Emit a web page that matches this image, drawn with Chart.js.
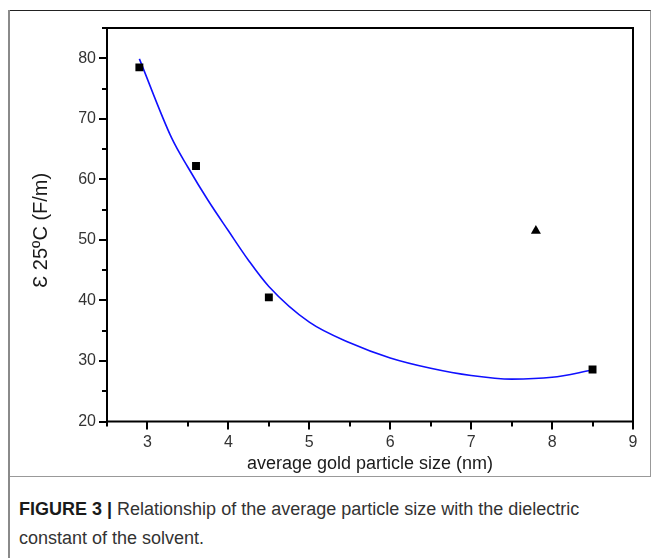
<!DOCTYPE html>
<html>
<head>
<meta charset="utf-8">
<script src="https://cdn.jsdelivr.net/npm/chart.js@4"></script>
<style>
  html, body { margin: 0; padding: 0; background: #fff; }
  body { width: 659px; height: 558px; position: relative; overflow: hidden; font-family: "Liberation Sans", Arial, sans-serif; }
  #frame { position: absolute; left: 9px; top: 10px; width: 641px; height: 465px; border-top: 1px solid #222; border-right: 1px solid #999; border-bottom: 1px solid #999; }
  #leftRule { position: absolute; left: 8px; top: 10px; width: 2px; height: 548px; background: #8a8a8a; }
  #chartBox { position: absolute; left: 0; top: 0; width: 659px; height: 475px; }
  #caption { position: absolute; left: 19px; top: 495px; width: 620px; font-family: "Liberation Sans", sans-serif; font-size: 18px; line-height: 29px; color: #333; }
  #caption b { color: #1a1a1a; }
</style>
</head>
<body>
<div id="frame"></div>
<div id="leftRule"></div>
<div id="chartBox"><canvas id="chart" width="659" height="475"></canvas></div>
<div id="caption"><b>FIGURE 3 |</b> Relationship of the average particle size with the dielectric constant of the solvent.</div>
<script>
// measured samples (squares) and the outlier (triangle)
const sizeNm = [2.9, 3.6, 4.5, 8.5];
const epsilon = [78.5, 62.2, 40.5, 28.6];
const outlierSize = [7.8];
const outlierEps = [51.5];

// fitted curve, read along its length
const fitX = [2.9, 3.3, 3.5, 3.75, 4.0, 4.25, 4.5, 5.0, 5.5, 6.0, 6.5, 7.0, 7.5, 8.0, 8.5];
const fitY = [79.9, 66.8, 62.0, 56.5, 51.5, 46.6, 42.3, 36.4, 33.0, 30.5, 28.8, 27.6, 27.0, 27.3, 28.5];

const xMajor = [3, 4, 5, 6, 7, 8, 9];
const yMajor = [20, 30, 40, 50, 60, 70, 80];

const toPoints = (xs, ys) => xs.map((x, i) => ({ x: x, y: ys[i] }));

// Origin-style ticks: long major, short minor, pointing outward
const tickMarks = {
  id: 'tickMarks',
  afterDraw(chart) {
    const ctx = chart.ctx;
    const xs = chart.scales.x, ys = chart.scales.y;
    const a = chart.chartArea;
    ctx.save();
    ctx.strokeStyle = '#000';
    ctx.lineWidth = 2;
    for (let v = 2.5; v <= 9.001; v += 0.5) {
      const px = Math.round(xs.getPixelForValue(v));
      const len = Number.isInteger(v) ? 8 : 5;
      ctx.beginPath();
      ctx.moveTo(px, a.bottom);
      ctx.lineTo(px, a.bottom + len);
      ctx.stroke();
    }
    for (let v = 20; v <= 85; v += 5) {
      const py = Math.round(ys.getPixelForValue(v));
      const len = v % 10 === 0 ? 8 : 5;
      ctx.beginPath();
      ctx.moveTo(a.left, py);
      ctx.lineTo(a.left - len, py);
      ctx.stroke();
    }
    // box around the plot
    ctx.strokeRect(a.left, a.top, a.right - a.left, a.bottom - a.top);
    ctx.restore();
  }
};

new Chart(document.getElementById('chart'), {
  type: 'scatter',
  data: {
    datasets: [
      {
        label: 'fit',
        type: 'line',
        data: toPoints(fitX, fitY),
        borderColor: '#1010ff',
        borderWidth: 1.6,
        pointRadius: 0,
        cubicInterpolationMode: 'monotone',
        fill: false,
        order: 2
      },
      {
        label: 'samples',
        data: toPoints(sizeNm, epsilon),
        pointStyle: 'rect',
        pointRadius: 5.6,
        backgroundColor: '#000',
        borderColor: '#000',
        borderWidth: 0,
        order: 1
      },
      {
        label: 'outlier',
        data: toPoints(outlierSize, outlierEps),
        pointStyle: 'triangle',
        pointRadius: 5.8,
        backgroundColor: '#000',
        borderColor: '#000',
        borderWidth: 0,
        order: 1
      }
    ]
  },
  options: {
    responsive: false,
    animation: false,
    layout: { padding: { left: 0, right: 26, top: 28, bottom: 0 } },
    plugins: { legend: { display: false }, tooltip: { enabled: false } },
    scales: {
      x: {
        type: 'linear',
        min: 2.5,
        max: 9,
        afterFit(scale) { scale.height = 53.5; },
        afterBuildTicks(scale) { scale.ticks = xMajor.map(v => ({ value: v })); },
        grid: { display: false, drawTicks: false },
        border: { display: false },
        ticks: { padding: 11, color: '#333', font: { family: 'Liberation Sans', size: 16 } },
        title: {
          display: true,
          text: 'average gold particle size (nm)',
          color: '#1a1a1a',
          font: { family: 'Liberation Sans', size: 18 },
          padding: { top: 4, bottom: 0 }
        }
      },
      y: {
        type: 'linear',
        min: 20,
        max: 85,
        afterFit(scale) { scale.width = 107; },
        afterBuildTicks(scale) { scale.ticks = yMajor.map(v => ({ value: v })); },
        grid: { display: false, drawTicks: false },
        border: { display: false },
        ticks: { padding: 11, color: '#333', font: { family: 'Liberation Sans', size: 16 } },
        title: {
          display: true,
          text: 'Ɛ 25ºC (F/m)  ',
          color: '#1a1a1a',
          font: { family: 'Liberation Sans', size: 20 },
          padding: { top: 29, bottom: 0 }
        }
      }
    }
  },
  plugins: [tickMarks]
});
</script>
</body>
</html>
